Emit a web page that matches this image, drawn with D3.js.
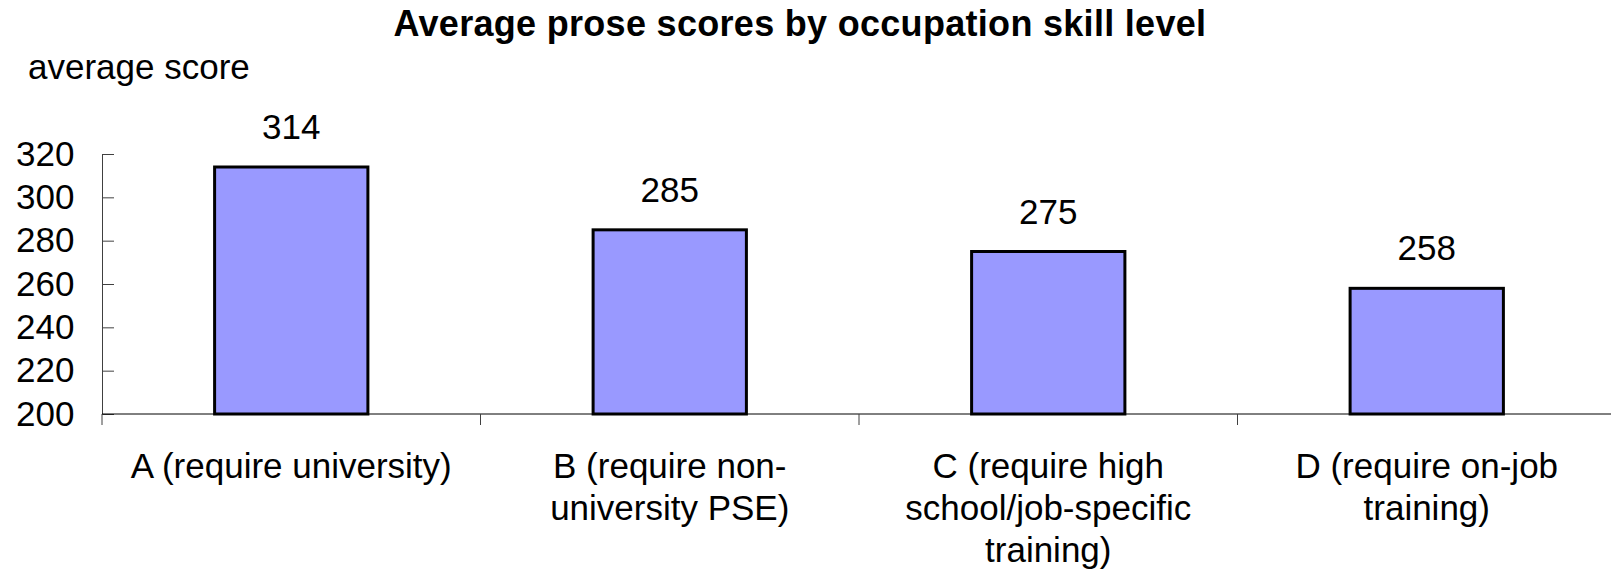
<!DOCTYPE html>
<html>
<head>
<meta charset="utf-8">
<script src="https://cdn.jsdelivr.net/npm/d3@7"></script>
<style>
	body { margin: 0; background: #fff; }
	text { font-family: "Liberation Sans", Arial, sans-serif; fill: #000; }
</style>
</head>
<body>
<div id="graph"></div>
<script>
/*
 * values
 */
var categories = [ "A", "B", "C", "D" ];
var categoryLines = [
	[ "A (require university)" ],
	[ "B (require non-", "university PSE)" ],
	[ "C (require high", "school/job-specific", "training)" ],
	[ "D (require on-job", "training)" ]
];
var scores = [ 314, 285, 275, 258 ];
var yTicks = [ 200, 220, 240, 260, 280, 300, 320 ];

var title = "Average prose scores by occupation skill level";
var yTitle = "average score";

var width = 1611, height = 579;
var plotLeft = 102, plotRight = 1616, plotTop = 154, plotBottom = 414;

var xScale = d3.scaleBand()
	.domain(categories)
	.range([plotLeft, plotRight]);
var yScale = d3.scaleLinear()
	.domain([200, 320])
	.range([plotBottom, plotTop]);

var barWidth = xScale.bandwidth() * 0.405;

var svg = d3.select("#graph").append("svg")
	.attr("width", width)
	.attr("height", height);

svg.append("text")
	.attr("x", 800)
	.attr("y", 36)
	.attr("text-anchor", "middle")
	.attr("font-size", 36)
	.attr("font-weight", "bold")
	.attr("letter-spacing", 0.3)
	.text(title);

svg.append("text")
	.attr("x", 28)
	.attr("y", 79)
	.attr("font-size", 35)
	.text(yTitle);

// y axis, ticks pointing into the plot
var yAxis = d3.axisLeft(yScale)
	.tickValues(yTicks)
	.tickSizeInner(-12)
	.tickSizeOuter(0)
	.tickPadding(27.5);

var yg = svg.append("g")
	.attr("transform", "translate(" + plotLeft + ",0)")
	.call(yAxis);
yg.attr("font-family", null).attr("font-size", null);
yg.selectAll("text").attr("font-size", 35);
yg.selectAll("line, path").attr("stroke", "#404040");

// bars
svg.append("g")
	.selectAll("rect")
	.data(scores)
	.join("rect")
	.attr("x", function (d, i) {
		return xScale(categories[i]) + (xScale.bandwidth() - barWidth) / 2;
	})
	.attr("y", function (d) { return yScale(d); })
	.attr("width", barWidth)
	.attr("height", function (d) { return yScale(200) - yScale(d); })
	.attr("fill", "#9999ff")
	.attr("stroke", "#000")
	.attr("stroke-width", 3);

// value labels
svg.append("g")
	.selectAll("text")
	.data(scores)
	.join("text")
	.attr("x", function (d, i) {
		return xScale(categories[i]) + xScale.bandwidth() / 2;
	})
	.attr("y", function (d) { return yScale(d) - 28; })
	.attr("text-anchor", "middle")
	.attr("font-size", 35)
	.text(function (d) { return d; });

// x axis line and category boundary ticks
svg.append("line")
	.attr("x1", plotLeft)
	.attr("x2", plotRight)
	.attr("y1", plotBottom)
	.attr("y2", plotBottom)
	.attr("stroke", "#000");

svg.append("g")
	.selectAll("line")
	.data(categories)
	.join("line")
	.attr("x1", function (d) { return xScale(d); })
	.attr("x2", function (d) { return xScale(d); })
	.attr("y1", plotBottom)
	.attr("y2", plotBottom + 11)
	.attr("stroke", "#404040");

// category labels, wrapped as in the original
var labels = svg.append("g")
	.selectAll("text")
	.data(categories)
	.join("text")
	.attr("text-anchor", "middle")
	.attr("font-size", 35)
	.attr("transform", function (d) {
		return "translate(" + (xScale(d) + xScale.bandwidth() / 2) + ",478)";
	});

labels.selectAll("tspan")
	.data(function (d, i) { return categoryLines[i]; })
	.join("tspan")
	.attr("x", 0)
	.attr("y", function (d, i) { return i * 42; })
	.text(function (d) { return d; });
</script>
</body>
</html>
